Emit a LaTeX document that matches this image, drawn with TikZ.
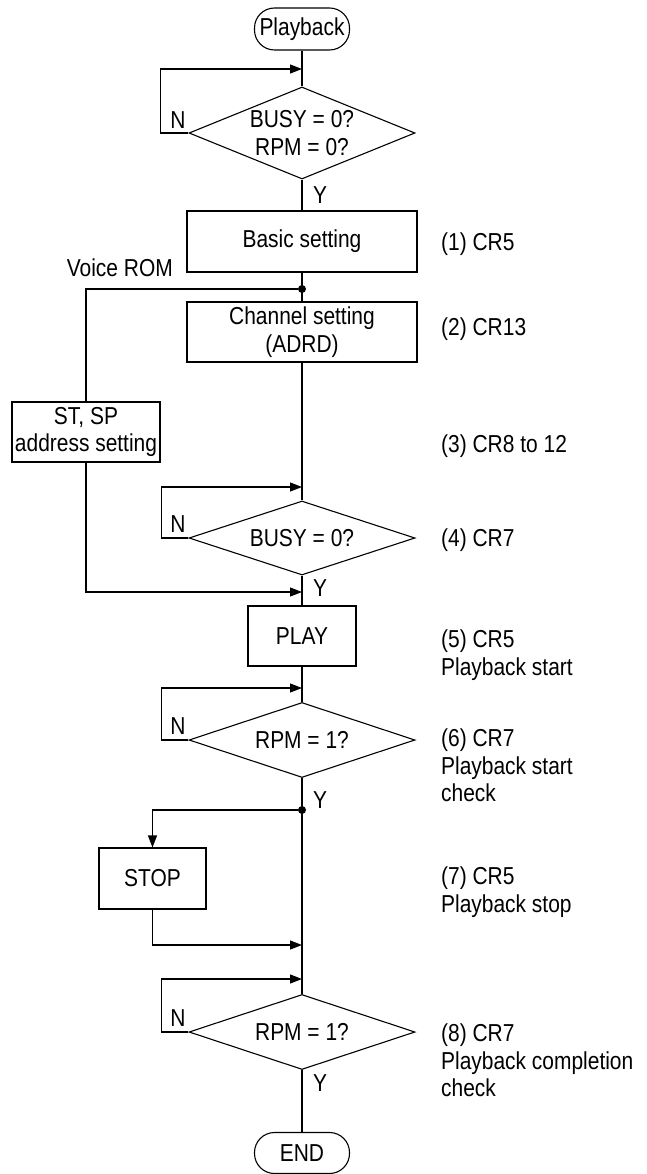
\documentclass[tikz,border=0pt]{standalone}
\usepackage{fontspec}
\setmainfont{Liberation Sans}[FakeStretch=0.855]
\usetikzlibrary{arrows.meta,shapes.geometric}
\begin{document}
\begin{tikzpicture}[x=1pt,y=-1pt,
  every node/.style={font=\fontsize{24.5}{27.5}\selectfont, inner sep=0pt},
  line/.style={line width=1.1pt},
  arr/.style={line width=1.1pt, -{Triangle[length=12pt,width=9pt]}},
  proc/.style={draw, line width=1.1pt, rectangle, align=center},
  term/.style={draw, line width=1.1pt, rectangle, rounded corners=20pt, minimum width=95pt, minimum height=42pt},
  dec/.style={draw, line width=1.1pt, diamond, minimum width=226pt, align=center, shape aspect=3},
  note/.style={anchor=north west, align=left},
  dotc/.style={circle, fill, minimum size=8pt, inner sep=0pt}
]
\useasboundingbox (0,0) rectangle (646,1174);

% main nodes
\node[term] (start) at (302,29) {Playback};
\node[dec, minimum height=92pt, shape aspect=2.45] (d1) at (302,133) {BUSY = 0?\\RPM = 0?};
\node[proc, minimum width=230pt, minimum height=61pt] (basic) at (302,241.5) {Basic setting};
\node[dotc] (dot1) at (302,289) {};
\node[proc, minimum width=230pt, minimum height=60pt] (chan) at (302,332) {Channel setting\\(ADRD)};
\node[proc, minimum width=148pt, minimum height=60pt] (stsp) at (86,432) {ST, SP\\address setting};
\node[dec, minimum height=74pt] (d2) at (302,538) {BUSY = 0?};
\node[proc, minimum width=108pt, minimum height=60pt] (play) at (302,636) {PLAY};
\node[dec, minimum height=75pt] (d3) at (302,740) {RPM = 1?};
\node[dotc] (dot2) at (302,810) {};
\node[proc, minimum width=107pt, minimum height=61pt] (stop) at (152.5,878.5) {STOP};
\node[dec, minimum height=75pt] (d4) at (302,1032) {RPM = 1?};
\node[term, minimum height=41pt] (end) at (302,1153) {END};

% junction coordinates
\coordinate (l1) at (302,69);
\coordinate (l2) at (302,487);
\coordinate (l3) at (302,688);
\coordinate (l4) at (302,979);
\coordinate (j1) at (302,592);
\coordinate (j2) at (302,945);

% main flow
\draw[line] (start) -- (d1);
\draw[line] (d1) -- (basic);
\draw[line] (basic) -- (chan);
\draw[line] (chan) -- (d2);
\draw[line] (d2) -- (play);
\draw[line] (play) -- (d3);
\draw[line] (d3) -- (d4);
\draw[line] (d4) -- (end);

% loops
\draw[arr] (d1.west) -- ++(-28,0) |- (l1);
\draw[arr] (d2.west) -- ++(-27,0) |- (l2);
\draw[arr] (d3.west) -- ++(-27,0) |- (l3);
\draw[arr] (d4.west) -- ++(-27,0) |- (l4);

% side branches
\draw[line] (dot1) -| (stsp.north);
\draw[arr] (stsp.south) |- (j1);
\draw[arr] (dot2) -| (stop.north);
\draw[arr] (stop.south) |- (j2);

% N / Y labels
\node (n1) at (178,120) {N};
\node (n2) at (178,524) {N};
\node (n3) at (178,726) {N};
\node (n4) at (178,1018) {N};
\node (y1) at (320,195) {Y};
\node (y2) at (320,588) {Y};
\node (y3) at (320,800) {Y};
\node (y4) at (320,1083) {Y};
\node[anchor=east] (vrom) at (173,268) {Voice ROM};

% right notes
\node[note] (c1) at (441,233) {(1) CR5};
\node[note] (c2) at (441,318) {(2) CR13};
\node[note] (c3) at (441,435) {(3) CR8 to 12};
\node[note] (c4) at (441,529) {(4) CR7};
\node[note] (c5) at (441,630) {(5) CR5\\Playback start};
\node[note] (c6) at (441,729) {(6) CR7\\Playback start\\check};
\node[note] (c7) at (441,867) {(7) CR5\\Playback stop};
\node[note] (c8) at (441,1024) {(8) CR7\\Playback completion\\check};
\end{tikzpicture}
\end{document}
